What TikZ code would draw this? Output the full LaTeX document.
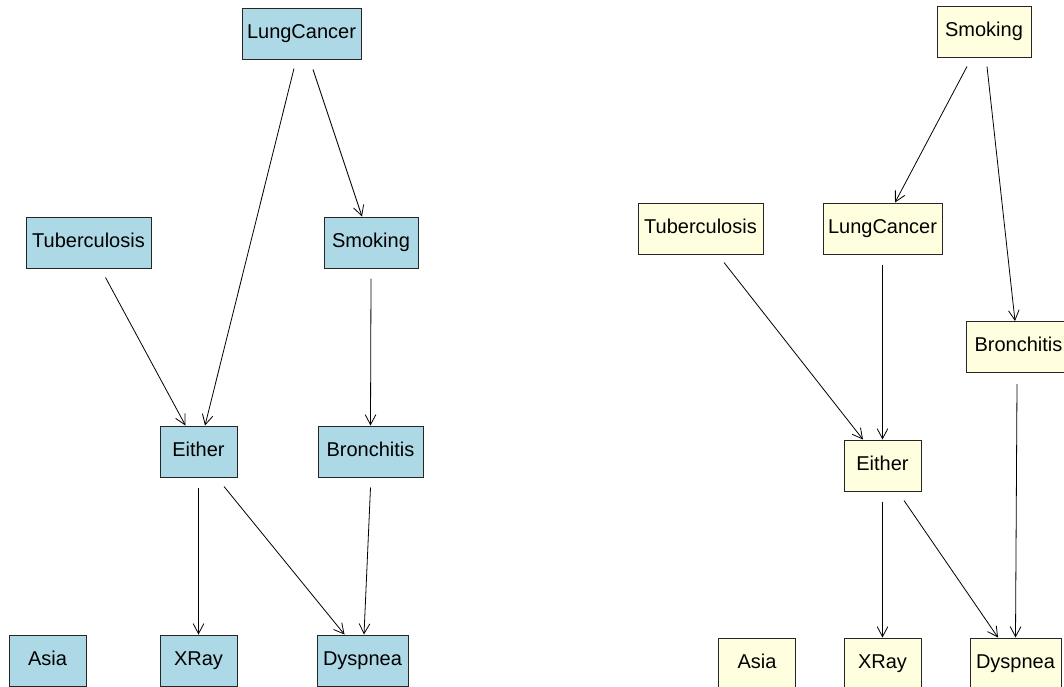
\documentclass[tikz,border=0pt]{standalone}
\usepackage{fontspec}
\setmainfont{Liberation Sans}
\usetikzlibrary{arrows.meta,calc}

\definecolor{nodeblue}{HTML}{ADD8E6}
\definecolor{nodeyellow}{HTML}{FFFFE0}

\tikzset{
  box/.style={draw=black!85, line width=0.75pt, inner sep=0pt,
    minimum height=38.25pt, minimum width=#1,
    text height=0.716em, text depth=0pt,
    font=\fontsize{15}{18}\selectfont},
  bluebox/.style={box=#1, fill=nodeblue},
  yellowbox/.style={box=#1, fill=nodeyellow},
  link/.style={-{Straight Barb[length=7.5pt,width=8pt]}, line width=0.6pt}
}

\begin{document}
\begin{tikzpicture}[x=0.75pt,y=-0.75pt]
  \useasboundingbox (0,0) rectangle (1064,686);

  % left network
  \node[bluebox=89.25pt]  (lc1) at (301.5,33.5)  {LungCancer};
  \node[bluebox=93.75pt]  (tb1) at (88.5,242.5)  {Tuberculosis};
  \node[bluebox=70.5pt]   (sm1) at (371,242.5)   {Smoking};
  \node[bluebox=57.75pt]  (ei1) at (198.5,451.5) {Either};
  \node[bluebox=78.75pt]  (br1) at (370.5,451.5) {Bronchitis};
  \node[bluebox=57.75pt]  (as1) at (47.5,660.5)  {Asia};
  \node[bluebox=57.75pt]  (xr1) at (198.5,660.5) {XRay};
  \node[bluebox=68.25pt]  (dy1) at (362.5,660.5) {Dyspnea};

  \draw[link] ($(lc1.south)+(-7.5,9)$) -- ($(ei1.north)+(6.5,0)$);
  \draw[link] ($(lc1.south)+(11.5,10)$) -- ($(sm1.north)+(-9,0)$);
  \draw[link] ($(tb1.south)+(17,9)$) -- ($(ei1.north)+(-13,0)$);
  \draw[link] ($(sm1.south)+(0,10)$) -- (br1.north);
  \draw[link] ($(ei1.south)+(0,10)$) -- (xr1.north);
  \draw[link] ($(ei1.south)+(25.5,9)$) -- ($(dy1.north)+(-18,0)$);
  \draw[link] ($(br1.south)+(0,10)$) -- ($(dy1.north)+(1.5,0)$);

  % right network
  \node[yellowbox=70.5pt]  (sm2) at (984,31.5)    {Smoking};
  \node[yellowbox=93.75pt] (tb2) at (700.5,228.5) {Tuberculosis};
  \node[yellowbox=89.25pt] (lc2) at (882.5,228.5) {LungCancer};
  \node[yellowbox=78.75pt] (br2) at (1018.5,347)  {Bronchitis};
  \node[yellowbox=57.75pt] (ei2) at (882.5,465.5) {Either};
  \node[yellowbox=57.75pt] (as2) at (757,663.5)   {Asia};
  \node[yellowbox=57.75pt] (xr2) at (882.5,663.5) {XRay};
  \node[yellowbox=68.25pt] (dy2) at (1015.5,663.5) {Dyspnea};

  \draw[link] ($(sm2.south)+(-17,9)$) -- ($(lc2.north)+(12.5,0)$);
  \draw[link] ($(sm2.south)+(3,9)$) -- ($(br2.north)+(-3.5,0)$);
  \draw[link] ($(tb2.south)+(23.5,8)$) -- ($(ei2.north)+(-19.5,0)$);
  \draw[link] ($(lc2.south)+(0,10)$) -- (ei2.north);
  \draw[link] ($(br2.south)+(-1.5,11)$) -- (dy2.north);
  \draw[link] ($(ei2.south)+(0,10)$) -- (xr2.north);
  \draw[link] ($(ei2.south)+(21.5,9)$) -- ($(dy2.north)+(-17.5,0)$);
\end{tikzpicture}
\end{document}
